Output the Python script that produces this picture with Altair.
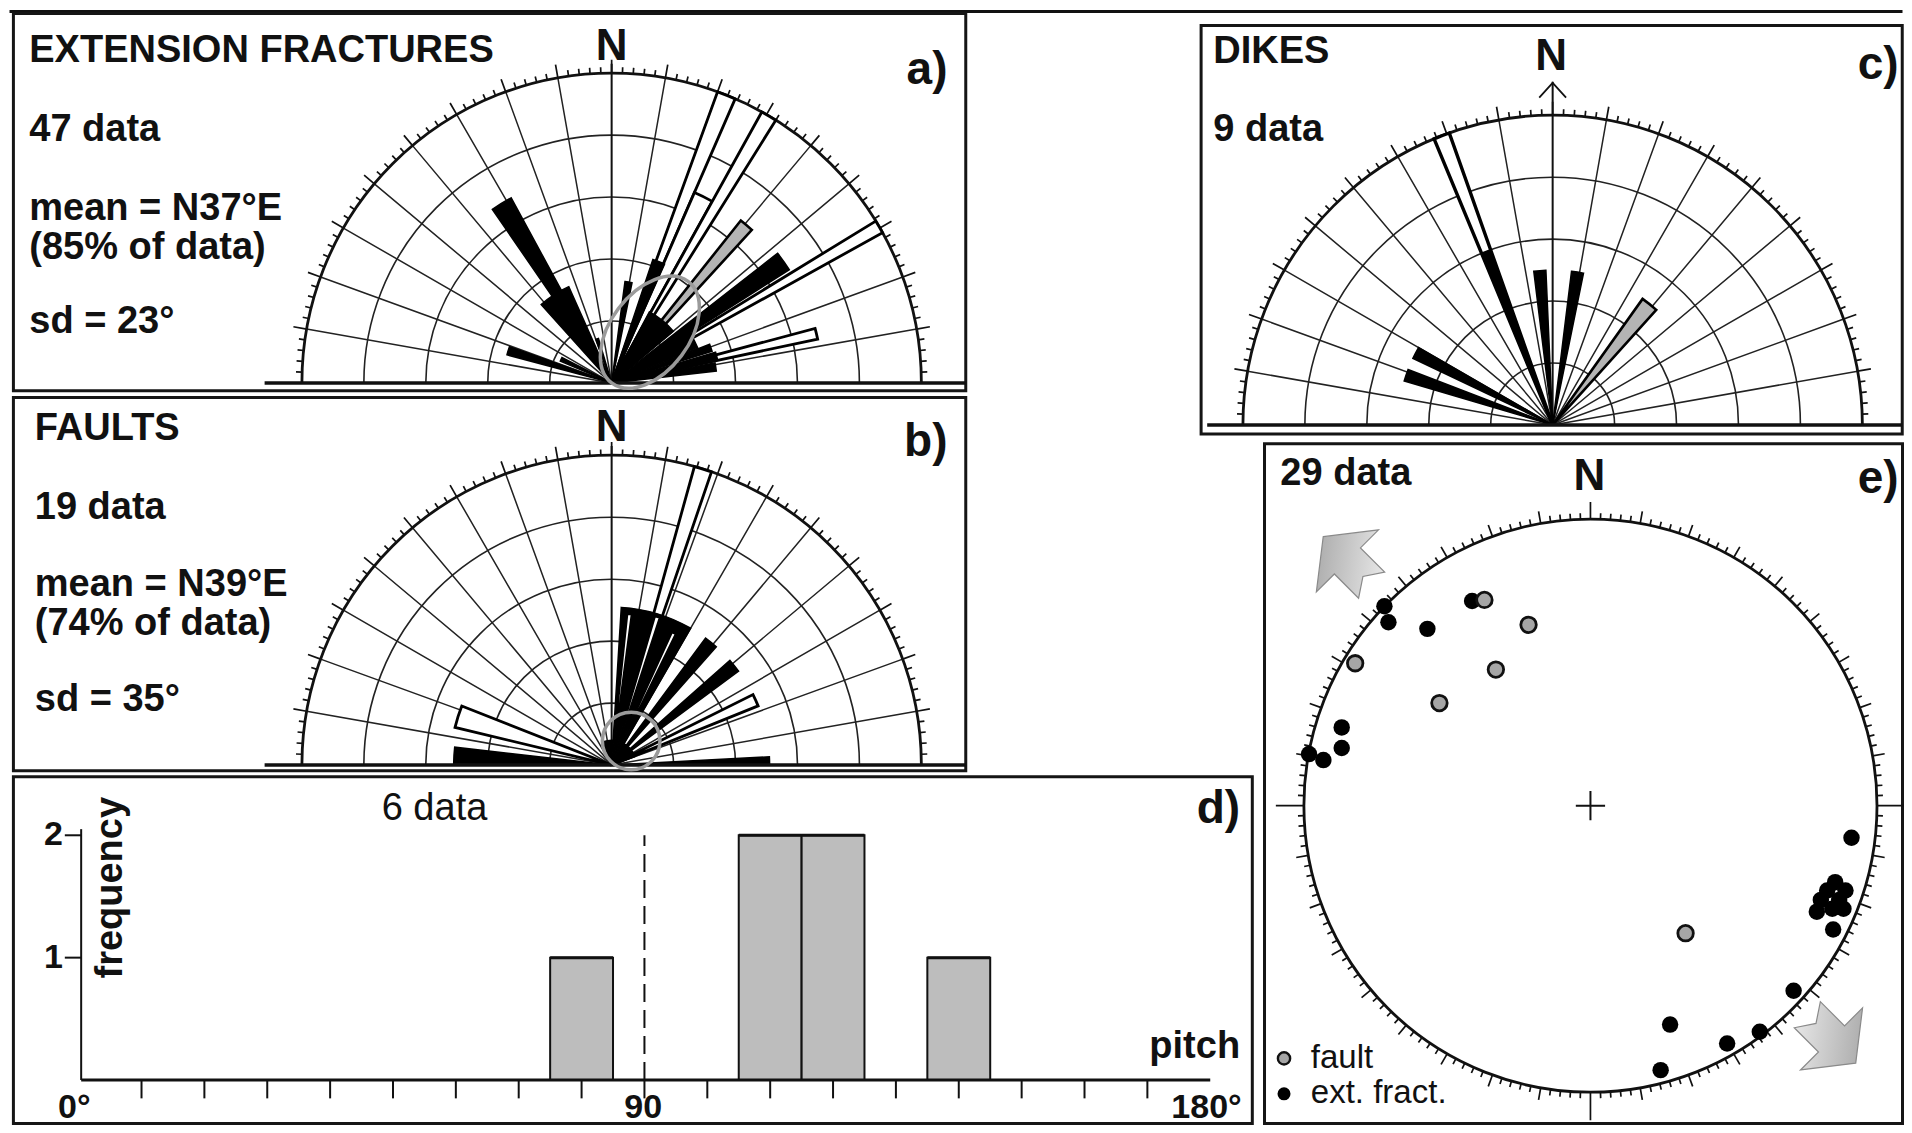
import math
import altair as alt
import pandas as pd

# ---------------- values ----------------
# a) extension fractures rose: petals (start azimuth, end azimuth, relative length)
EF_OPEN_FROM = [20, 23.5, 29, 58.5, 75]
EF_OPEN_TO = [23.5, 29, 32, 61, 78]
EF_OPEN_LEN = [1.0, 0.67, 1.0, 1.0, 0.68]
EF_GRAY_FROM = [38.5]
EF_GRAY_TO = [42.5]
EF_GRAY_LEN = [0.67]
EF_BLACK_FROM = [-42, -34.5, -20, -75, -67, 7.5, 18.5, 28, 52, 57, 68.5, 73.5, 79]
EF_BLACK_TO = [-24, -28.5, -16.5, -70.5, -63, 11.5, 24, 50, 57.5, 68, 72.5, 77.5, 83.5]
EF_BLACK_LEN = [0.34, 0.68, 0.15, 0.35, 0.18, 0.33, 0.42, 0.26, 0.68, 0.30, 0.34, 0.35, 0.34]
EF_MEAN = 37

# b) faults rose
FA_OPEN_FROM = [15.5, 63.5, -76.5]
FA_OPEN_TO = [18.8, 68, -68.5]
FA_OPEN_LEN = [1.0, 0.51, 0.52]
FA_BLACK_FROM = [3.5, 36.5, 48.5, 87, -89.5, -20]
FA_BLACK_TO = [30, 41.5, 53.5, 90, -83.5, 70]
FA_BLACK_LEN = [0.51, 0.51, 0.51, 0.51, 0.51, 0.08]
FA_STRIPE_FROM = [6, 16.3, 24.5]
FA_STRIPE_TO = [7.5, 18, 26]
FA_STRIPE_LEN = [0.49, 0.5, 0.47]
FA_MEAN = 39

# c) dikes rose
DK_OPEN_FROM = [-22.5]
DK_OPEN_TO = [-19.5]
DK_OPEN_LEN = [1.0]
DK_GRAY_FROM = [35.5]
DK_GRAY_TO = [42]
DK_GRAY_LEN = [0.5]
DK_BLACK_FROM = [-22.5, -7, 7, -64.5, -73.5]
DK_BLACK_TO = [-19.5, -2.5, 11.5, -60, -69]
DK_BLACK_LEN = [0.6, 0.5, 0.5, 0.5, 0.5]

# d) pitch histogram
PITCH_FROM = [75, 105, 115, 135]
PITCH_TO = [85, 115, 125, 145]
PITCH_COUNT = [1, 2, 2, 1]
PITCH_TICKS = list(range(0, 181, 10))
FREQ_TICKS = [1, 2]

# e) stereonet points (unit-circle coordinates)
EXT_U = [-0.719, -0.705, -0.413, -0.569, -0.868, -0.868, -0.982, -0.932, 0.911, 0.854, 0.890,
         0.826, 0.804, 0.868, 0.790, 0.844, 0.883, 0.847, 0.709, 0.278, 0.477, 0.591, 0.245]
EXT_V = [0.696, 0.640, 0.714, 0.617, 0.273, 0.201, 0.180, 0.159, -0.112, -0.267, -0.296,
         -0.296, -0.329, -0.329, -0.370, -0.360, -0.360, -0.432, -0.646, -0.764, -0.830, -0.789, -0.923]
FLT_U = [-0.370, -0.216, -0.821, -0.330, -0.527, 0.332]
FLT_V = [0.718, 0.631, 0.497, 0.475, 0.358, -0.445]

# ---------------- layout ----------------
S = 1912 / 1568.0
W, H = 1896, 1117
FONT = "Liberation Sans, Arial, Helvetica, sans-serif"
R = 254.0


def X(d):
    return round(min(max(d * S - 8, 1.5), W - 1.5), 2)


def Y(d):
    return round(min(max(d * S - 8, 1.5), H - 1.5), 2)


ONE = pd.DataFrame({"k": [0]})
THETA = alt.Scale(domain=[0, 360], range=[0, 2 * math.pi])


def RAD(rdisp):
    return alt.Scale(type="linear", domain=[0, 1], range=[0, rdisp * S])


def arc_layer(df, cx, cy, rdisp, **mk):
    return alt.Chart(df).mark_arc(**mk).encode(
        x=alt.value(X(cx)), y=alt.value(Y(cy)),
        theta=alt.Theta("a1:Q", scale=THETA, stack=False),
        theta2=alt.Theta2("a2:Q"),
        radius=alt.Radius("r1:Q", scale=RAD(rdisp)),
        radius2=alt.Radius2("r0:Q"),
    )


def petal_df(f, t, l):
    return pd.DataFrame({"a1": f, "a2": t, "r0": [0.0] * len(f), "r1": l})


def hline(x1, x2, y, w=3, color="#111"):
    return alt.Chart(ONE).mark_rule(strokeWidth=w, color=color).encode(
        x=alt.value(X(x1)), x2=alt.value(X(x2)), y=alt.value(Y(y)))


def box(x1, y1, x2, y2, w=3):
    return alt.Chart(ONE).mark_rect(filled=False, stroke="#151515", strokeWidth=w).encode(
        x=alt.value(X(x1)), x2=alt.value(X(x2)), y=alt.value(Y(y1)), y2=alt.value(Y(y2)))


def text(t, x, y, size=38, weight="bold", align="left", baseline="alphabetic", angle=0):
    return alt.Chart(pd.DataFrame({"t": [t]})).mark_text(
        font=FONT, fontSize=size, fontWeight=weight, align=align, baseline=baseline,
        angle=angle, color="#111").encode(x=alt.value(X(x)), y=alt.value(Y(y)), text="t:N")


def rose(cx, cy, open_, gray_, black_, stripe_=None, n_ext=1.03, base=(217, 792), open_w=2.8):
    L = []
    rings = [0.2, 0.4, 0.6, 0.8]
    L.append(arc_layer(pd.DataFrame({"a1": [-90] * 4, "a2": [90] * 4, "r0": rings, "r1": rings}),
                       cx, cy, R, filled=False, stroke="#222", strokeWidth=1.6))
    spokes = [a for a in range(-80, 81, 10) if a != 0]
    L.append(arc_layer(pd.DataFrame({"a1": spokes, "a2": spokes, "r0": [0] * len(spokes), "r1": [1] * len(spokes)}),
                       cx, cy, R, filled=False, stroke="#222", strokeWidth=1.5))
    ta = list(range(-90, 91, 2))
    tl = [1 + (11 if a % 10 == 0 else 5) / R for a in ta]
    L.append(arc_layer(pd.DataFrame({"a1": ta, "a2": ta, "r0": [1] * len(ta), "r1": tl}),
                       cx, cy, R, filled=False, stroke="#111", strokeWidth=1.7))
    L.append(arc_layer(pd.DataFrame({"a1": [-90], "a2": [90], "r0": [1], "r1": [1]}),
                       cx, cy, R, filled=False, stroke="#111", strokeWidth=2.8))
    L.append(arc_layer(pd.DataFrame({"a1": [0], "a2": [0], "r0": [0], "r1": [n_ext]}),
                       cx, cy, R, filled=False, stroke="#111", strokeWidth=2))
    L.append(arc_layer(petal_df(*open_), cx, cy, R, fill="white", stroke="#000", strokeWidth=open_w))
    L.append(arc_layer(petal_df(*gray_), cx, cy, R, fill="#b4b4b4", stroke="#000", strokeWidth=2.6))
    L.append(arc_layer(petal_df(*black_), cx, cy, R, fill="#000", stroke="#000", strokeWidth=1.5))
    if stripe_:
        L.append(arc_layer(petal_df(*stripe_), cx, cy, R, fill="white", stroke="#000", strokeWidth=1.6))
    L.append(hline(base[0], base[1], cy, w=3.5))
    return L


layers = []

# frames
layers.append(hline(0, 1568, 9.5, w=3))
layers += [box(11, 11, 792, 320.5), box(11, 326, 792, 632), box(11, 637, 1027, 927),
           box(985, 21, 1560, 356), box(1037, 364, 1565, 927)]

# rose a
cxa, cya = 501.6, 314.0
layers += rose(cxa, cya, (EF_OPEN_FROM, EF_OPEN_TO, EF_OPEN_LEN), (EF_GRAY_FROM, EF_GRAY_TO, EF_GRAY_LEN),
               (EF_BLACK_FROM, EF_BLACK_TO, EF_BLACK_LEN))
ELL = "M0,-1A0.62,1 0 1,1 0,1A0.62,1 0 1,1 0,-1Z"
da = 0.205 * R
layers.append(alt.Chart(ONE).mark_point(shape=ELL, filled=False, stroke="#9a9a9a", strokeWidth=3.5, opacity=1,
                                        size=(2 * da * S) ** 2, angle=EF_MEAN).encode(
    x=alt.value(X(cxa + da * math.sin(math.radians(EF_MEAN)))),
    y=alt.value(Y(cya - da * math.cos(math.radians(EF_MEAN))))))

# rose b
cxb, cyb = 501.6, 627.4
layers += rose(cxb, cyb, (FA_OPEN_FROM, FA_OPEN_TO, FA_OPEN_LEN), ([], [], []),
               (FA_BLACK_FROM, FA_BLACK_TO, FA_BLACK_LEN), (FA_STRIPE_FROM, FA_STRIPE_TO, FA_STRIPE_LEN))
db = 0.1 * R
layers.append(alt.Chart(ONE).mark_point(shape="circle", filled=False, stroke="#9a9a9a", strokeWidth=3.5, opacity=1,
                                        size=(2 * 0.093 * R * S) ** 2).encode(
    x=alt.value(X(cxb + db * math.sin(math.radians(FA_MEAN)))),
    y=alt.value(Y(cyb - db * math.cos(math.radians(FA_MEAN))))))

# rose c
cxc, cyc = 1273.3, 348.5
layers += rose(cxc, cyc, (DK_OPEN_FROM, DK_OPEN_TO, DK_OPEN_LEN), (DK_GRAY_FROM, DK_GRAY_TO, DK_GRAY_LEN),
               (DK_BLACK_FROM, DK_BLACK_TO, DK_BLACK_LEN), n_ext=1.108, base=(990, 1560), open_w=3.4)
layers.append(alt.Chart(ONE).mark_point(shape="M-1,0.55L0,-0.55L1,0.55", filled=False, stroke="#111",
                                        strokeWidth=1.8, opacity=1, size=(22 * S) ** 2).encode(
    x=alt.value(X(cxc)), y=alt.value(Y(74))))

# texts panels a, b, c
for t, y in [("EXTENSION FRACTURES", 51), ("47 data", 116), ("mean = N37°E", 180.5),
             ("(85% of data)", 212.5), ("sd = 23°", 273)]:
    layers.append(text(t, 24, y))
for t, y in [("FAULTS", 361), ("19 data", 426), ("mean = N39°E", 489),
             ("(74% of data)", 521), ("sd = 35°", 583)]:
    layers.append(text(t, 28.5, y))
layers += [text("DIKES", 995, 52), text("9 data", 995, 116), text("29 data", 1050, 398)]
for t, x, y in [("a)", 777, 69), ("b)", 777, 374), ("c)", 1557, 65), ("d)", 1017, 675), ("e)", 1557, 404)]:
    layers.append(text(t, x, y, size=46, align="right"))
for x, y in [(cxa, 49), (cxb, 362), (1272, 57), (1303.5, 402)]:
    layers.append(text("N", x, y, size=44, align="center"))

# d) histogram
HX = alt.Scale(domain=[0, 180], range=[X(64.5), X(992.5)])
HY = alt.Scale(domain=[0, 2], range=[Y(885.7), Y(685.0)])
hist = pd.DataFrame({"s": PITCH_FROM, "e": PITCH_TO, "c": PITCH_COUNT, "z": [0] * 4})
layers.append(alt.Chart(hist).mark_rect(fill="#bdbdbd", stroke="#111", strokeWidth=2).encode(
    x=alt.X("s:Q", scale=HX, axis=None), x2="e:Q",
    y=alt.Y("z:Q", scale=HY, axis=None), y2="c:Q"))
layers.append(alt.Chart(hist).mark_rule(color="#111", strokeWidth=3).encode(
    x=alt.X("s:Q", scale=HX, axis=None), x2="e:Q", y=alt.Y("c:Q", scale=HY, axis=None)))
axis_df = pd.DataFrame({"a": [0.4], "b": [180], "z": [0], "top": [2.05]})
layers.append(alt.Chart(axis_df).mark_rule(color="#111", strokeWidth=3).encode(
    x=alt.X("a:Q", scale=HX, axis=None), x2="b:Q", y=alt.Y("z:Q", scale=HY, axis=None)))
layers.append(alt.Chart(axis_df).mark_rule(color="#111", strokeWidth=2).encode(
    x=alt.X("a:Q", scale=HX, axis=None), y=alt.Y("z:Q", scale=HY, axis=None), y2="top:Q"))
xt = pd.DataFrame({"d": PITCH_TICKS[1:-1], "z": [0] * (len(PITCH_TICKS) - 2),
                   "lo": [-0.15] * (len(PITCH_TICKS) - 2)})
layers.append(alt.Chart(xt).mark_rule(color="#111", strokeWidth=2).encode(
    x=alt.X("d:Q", scale=HX, axis=None), y=alt.Y("z:Q", scale=HY, axis=None), y2="lo:Q"))
yt = pd.DataFrame({"c": FREQ_TICKS, "l": [-2.2] * 2, "z": [0.4] * 2})
layers.append(alt.Chart(yt).mark_rule(color="#111", strokeWidth=2).encode(
    x=alt.X("l:Q", scale=HX, axis=None), x2="z:Q", y=alt.Y("c:Q", scale=HY, axis=None)))
layers.append(alt.Chart(yt).mark_text(font=FONT, fontSize=34, fontWeight="bold", align="right",
                                      baseline="middle", color="#111", dx=-2).encode(
    x=alt.X("l:Q", scale=HX, axis=None), y=alt.Y("c:Q", scale=HY, axis=None), text="c:Q"))
layers.append(alt.Chart(pd.DataFrame({"d": [90, 90], "c": [0, 2]})).mark_line(
    color="#111", strokeWidth=2, strokeDash=[18, 8]).encode(
    x=alt.X("d:Q", scale=HX, axis=None), y=alt.Y("c:Q", scale=HY, axis=None)))
xl = pd.DataFrame({"d": [-0.7, 89.8], "t": ["0°", "90"], "c": [-0.31, -0.31]})
layers.append(alt.Chart(xl).mark_text(font=FONT, fontSize=34, fontWeight="bold", align="center",
                                      baseline="alphabetic", color="#111").encode(
    x=alt.X("d:Q", scale=HX, axis=None), y=alt.Y("c:Q", scale=HY, axis=None), text="t:N"))
layers.append(alt.Chart(pd.DataFrame({"d": [185], "t": ["180°"], "c": [-0.31]})).mark_text(
    font=FONT, fontSize=34, fontWeight="bold", align="right", baseline="alphabetic", color="#111").encode(
    x=alt.X("d:Q", scale=HX, axis=None), y=alt.Y("c:Q", scale=HY, axis=None), text="t:N"))
layers += [text("frequency", 91, 728, size=38, align="center", baseline="middle", angle=270),
           text("6 data", 313, 672.5, weight="normal"),
           text("pitch", 1017, 868, align="right")]

# e) stereonet
cxe, cye, Re = 1304.3, 660.7, 235.0
layers.append(arc_layer(pd.DataFrame({"a1": [0], "a2": [360], "r0": [1], "r1": [1]}),
                        cxe, cye, Re, filled=False, stroke="#111", strokeWidth=2.8))
sa = list(range(0, 360, 2))
sl = [1 + (14 if a == 0 else 23 if a % 90 == 0 else 10 if a % 10 == 0 else 5) / Re for a in sa]
layers.append(arc_layer(pd.DataFrame({"a1": sa, "a2": sa, "r0": [1] * len(sa), "r1": sl}),
                        cxe, cye, Re, filled=False, stroke="#111", strokeWidth=1.7))
layers.append(alt.Chart(ONE).mark_point(shape="M-1,0L1,0M0,-1L0,1", filled=False, stroke="#111",
                                        strokeWidth=2, opacity=1, size=(24 * S) ** 2).encode(
    x=alt.value(X(cxe)), y=alt.value(Y(cye))))
EX = alt.Scale(domain=[-1, 1], range=[X(cxe - Re), X(cxe + Re)])
EY = alt.Scale(domain=[-1, 1], range=[Y(cye + Re), Y(cye - Re)])
layers.append(alt.Chart(pd.DataFrame({"u": EXT_U, "v": EXT_V})).mark_circle(
    size=270, color="#000", opacity=1).encode(
    x=alt.X("u:Q", scale=EX, axis=None), y=alt.Y("v:Q", scale=EY, axis=None)))
layers.append(alt.Chart(pd.DataFrame({"u": FLT_U, "v": FLT_V})).mark_circle(
    size=240, fill="#a6a6a6", stroke="#111", strokeWidth=2.8, opacity=1).encode(
    x=alt.X("u:Q", scale=EX, axis=None), y=alt.Y("v:Q", scale=EY, axis=None)))
# legend
layers.append(alt.Chart(ONE).mark_circle(size=150, fill="#a6a6a6", stroke="#111", strokeWidth=2.4,
                                         opacity=1).encode(x=alt.value(X(1053)), y=alt.value(Y(868))))
layers.append(alt.Chart(ONE).mark_circle(size=170, color="#000", opacity=1).encode(
    x=alt.value(X(1053)), y=alt.value(Y(897))))
layers += [text("fault", 1075, 876, size=33, weight="normal"),
           text("ext. fract.", 1075, 904.5, size=33, weight="normal")]
# arrows
ARROW = "M0,-0.78L1,0L0.42,0L0.42,0.78L0,0.5L-0.42,0.78L-0.42,0L-1,0Z"
GRAD = alt.LinearGradient(gradient="linear",
                          stops=[alt.GradientStop(color="#9a9a9a", offset=0),
                                 alt.GradientStop(color="#f4f4f4", offset=1)],
                          x1=0, y1=0, x2=1, y2=1)
for (ax, ay, ang) in [(1105, 460, 315), (1502, 852, 135)]:
    layers.append(alt.Chart(ONE).mark_point(shape=ARROW, filled=True, fill=GRAD, stroke="#8a8a8a",
                                            strokeWidth=1.2, opacity=1, size=(72 * S) ** 2, angle=ang).encode(
        x=alt.value(X(ax)), y=alt.value(Y(ay))))

chart = alt.layer(*layers).resolve_scale(
    x="independent", y="independent", theta="independent", radius="independent"
).properties(
    width=W, height=H, padding=0, background="white",
    autosize=alt.AutoSizeParams(type="none"),
).configure_view(stroke="transparent")

chart.save("out.html", embed_options={"renderer": "svg", "actions": False})
